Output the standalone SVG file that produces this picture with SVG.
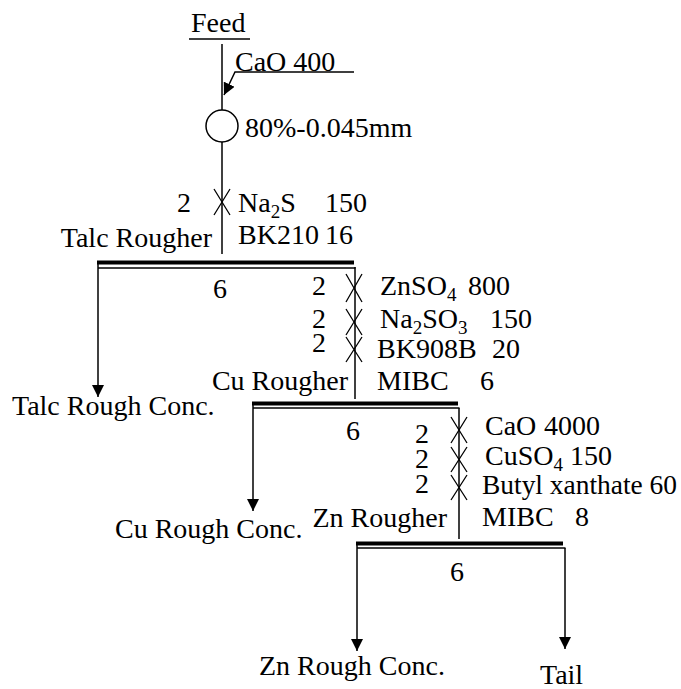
<svg xmlns="http://www.w3.org/2000/svg" width="681" height="689" viewBox="0 0 681 689">
<style>
text{font-family:"Liberation Serif","Times New Roman",serif;font-size:28px;fill:#000}
.sub{font-size:19px}
.ln{stroke:#000;stroke-width:1.5;fill:none}
.bar{stroke:#000;stroke-width:4;fill:none}
.x{stroke:#000;stroke-width:1.3;fill:none}
</style>
<defs>
<marker id="ah" markerUnits="userSpaceOnUse" markerWidth="12" markerHeight="12" refX="12" refY="6" orient="auto" viewBox="0 0 12 12">
<path d="M0,0 L12,6 L0,12 z" fill="#000"/>
</marker>
</defs>
<rect width="681" height="689" fill="#fff"/>

<g id="connectors">
<line class="ln" x1="222" y1="44" x2="222" y2="110"/>
<polyline class="ln" points="354,72 235,72 224,95" marker-end="url(#ah)"/>
<line class="ln" x1="222" y1="142" x2="222" y2="254"/>
<line class="ln" x1="98" y1="262" x2="98" y2="397" marker-end="url(#ah)"/>
<line class="ln" x1="355" y1="267" x2="355" y2="399"/>
<line class="ln" x1="253" y1="404" x2="253" y2="511" marker-end="url(#ah)"/>
<line class="ln" x1="459" y1="408" x2="459" y2="539"/>
<line class="ln" x1="357" y1="544" x2="357" y2="651" marker-end="url(#ah)"/>
<line class="ln" x1="565" y1="548" x2="565" y2="649" marker-end="url(#ah)"/>
</g>

<g id="feed">
<text x="191" y="32">Feed</text>
<line class="ln" x1="189" y1="39" x2="250" y2="39"/>
<text x="235" y="71">CaO 400</text>
</g>

<g id="grinding">
<circle class="ln" cx="222" cy="126" r="16"/>
<text x="245" y="137">80%-0.045mm</text>
</g>

<g id="talc-rougher">
<path class="x" d="M214,189 L230,215 M230,189 L214,215"/>
<text x="177" y="212">2</text>
<text x="238" y="212">Na<tspan class="sub" dy="6">2</tspan><tspan dy="-6">S</tspan></text>
<text x="325" y="212">150</text>
<text x="238" y="244">BK210</text>
<text x="325" y="244">16</text>
<text x="212" y="247" text-anchor="end">Talc Rougher</text>
<line class="bar" x1="97" y1="262.5" x2="354" y2="262.5"/>
<line class="ln" x1="98" y1="268" x2="355.5" y2="268"/>
<text x="213" y="298">6</text>
</g>

<g id="cu-rougher">
<path class="x" d="M346,274 L362,302 M362,274 L346,302"/>
<path class="x" d="M346,309 L362,335 M362,309 L346,335"/>
<path class="x" d="M346,337 L362,362 M362,337 L346,362"/>
<text x="312" y="295">2</text>
<text x="312" y="328">2</text>
<text x="312" y="352">2</text>
<text x="380" y="295">ZnSO<tspan class="sub" dy="6">4</tspan></text>
<text x="468" y="295">800</text>
<text x="380" y="328">Na<tspan class="sub" dy="6">2</tspan><tspan dy="-6">SO</tspan><tspan class="sub" dy="6">3</tspan></text>
<text x="490" y="328">150</text>
<text x="377" y="358">BK908B</text>
<text x="492" y="358">20</text>
<text x="377" y="390">MIBC</text>
<text x="480" y="390">6</text>
<text x="348" y="390" text-anchor="end">Cu Rougher</text>
<line class="bar" x1="252" y1="403.5" x2="458" y2="403.5"/>
<line class="ln" x1="253" y1="408" x2="459.5" y2="408"/>
<text x="346" y="440">6</text>
</g>

<g id="zn-rougher">
<path class="x" d="M451,417 L467,443 M467,417 L451,443"/>
<path class="x" d="M451,447 L467,472 M467,447 L451,472"/>
<path class="x" d="M451,475 L467,500 M467,475 L451,500"/>
<text x="415" y="443">2</text>
<text x="415" y="468">2</text>
<text x="415" y="493">2</text>
<text x="485" y="435">CaO</text>
<text x="544" y="435">4000</text>
<text x="485" y="465">CuSO<tspan class="sub" dy="6">4</tspan><tspan dy="-6"> 150</tspan></text>
<text x="482" y="494" textLength="195" lengthAdjust="spacingAndGlyphs">Butyl xanthate 60</text>
<text x="482" y="526">MIBC</text>
<text x="575" y="526">8</text>
<text x="447" y="527" text-anchor="end">Zn Rougher</text>
<line class="bar" x1="356" y1="543.5" x2="563" y2="543.5"/>
<line class="ln" x1="357" y1="548" x2="565.5" y2="548"/>
<text x="450" y="581">6</text>
</g>

<g id="products">
<text x="12" y="415">Talc Rough Conc.</text>
<text x="115" y="538">Cu Rough Conc.</text>
<text x="259" y="675">Zn Rough Conc.</text>
<text x="540" y="684">Tail</text>
</g>
</svg>
